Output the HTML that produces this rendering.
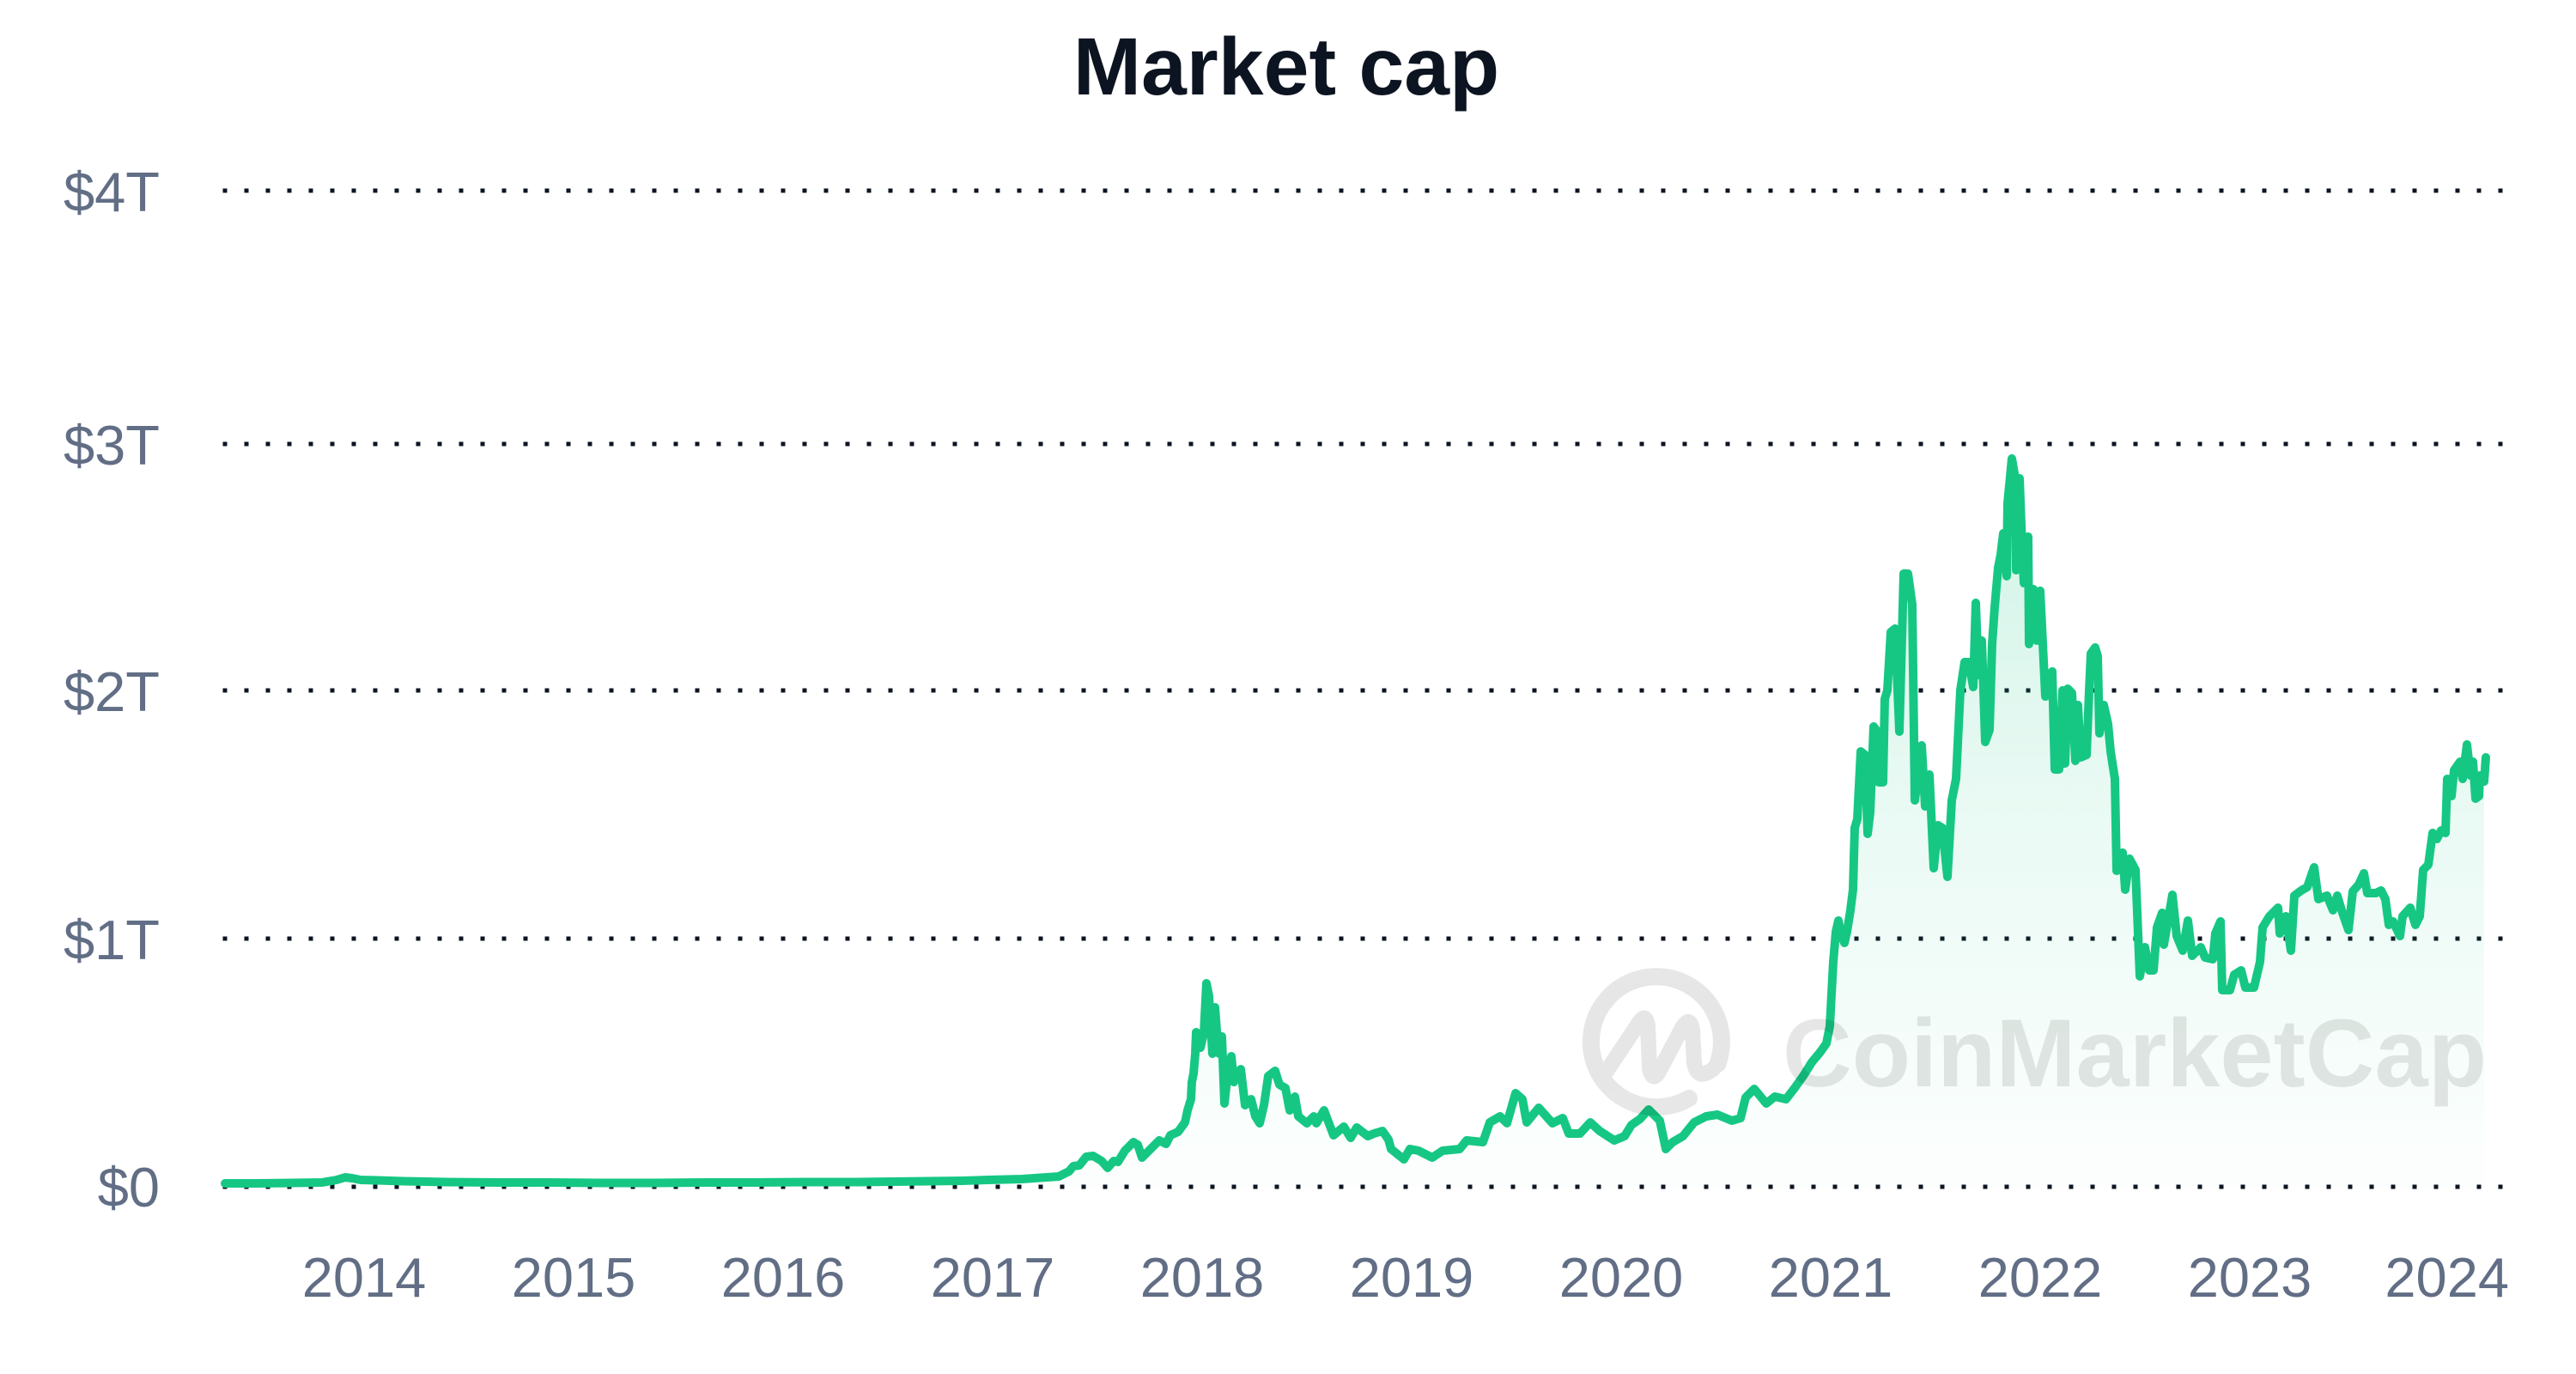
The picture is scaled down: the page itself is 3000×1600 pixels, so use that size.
<!DOCTYPE html>
<html>
<head>
<meta charset="utf-8">
<style>
  html, body { margin: 0; padding: 0; background: #ffffff; }
  body { width: 3000px; height: 1600px; overflow: hidden; }
  svg { display: block; }
  .ylab { font-family: "Liberation Sans", Arial, sans-serif; font-size: 65px; fill: #616e85; }
  .xlab { font-family: "Liberation Sans", Arial, sans-serif; font-size: 65px; fill: #616e85; }
  .title { font-family: "Liberation Sans", Arial, sans-serif; font-size: 95px; font-weight: bold; fill: #0d1421; }
  .wm { font-family: "Liberation Sans", Arial, sans-serif; font-size: 112px; font-weight: bold; }
</style>
</head>
<body>
<svg width="3000" height="1600" viewBox="0 0 3000 1600" xmlns="http://www.w3.org/2000/svg">
  <defs>
    <linearGradient id="fillg" x1="0" y1="534" x2="0" y2="1382" gradientUnits="userSpaceOnUse">
      <stop offset="0" stop-color="#16c784" stop-opacity="0.2"/>
      <stop offset="0.5" stop-color="#16c784" stop-opacity="0.09"/>
      <stop offset="1" stop-color="#16c784" stop-opacity="0.01"/>
    </linearGradient>
  </defs>
  <rect x="0" y="0" width="3000" height="1600" fill="#ffffff"/>

  <!-- Title -->
  <text class="title" x="1498" y="110" text-anchor="middle">Market cap</text>

  <!-- Gridlines (dotted) -->
  <g stroke="#0d1421" stroke-width="5" stroke-dasharray="5 20">
    <line x1="259.5" y1="222" x2="2916" y2="222"/>
    <line x1="259.5" y1="517" x2="2916" y2="517"/>
    <line x1="259.5" y1="804" x2="2916" y2="804"/>
    <line x1="259.5" y1="1093" x2="2916" y2="1093"/>
    <line x1="259.5" y1="1382" x2="2916" y2="1382"/>
  </g>

  <!-- Y labels -->
  <text class="ylab" x="186" y="246" text-anchor="end">$4T</text>
  <text class="ylab" x="186" y="541" text-anchor="end">$3T</text>
  <text class="ylab" x="186" y="828" text-anchor="end">$2T</text>
  <text class="ylab" x="186" y="1117" text-anchor="end">$1T</text>
  <text class="ylab" x="186" y="1405" text-anchor="end">$0</text>

  <!-- X labels -->
  <text class="xlab" x="424" y="1510" text-anchor="middle">2014</text>
  <text class="xlab" x="668" y="1510" text-anchor="middle">2015</text>
  <text class="xlab" x="912" y="1510" text-anchor="middle">2016</text>
  <text class="xlab" x="1156" y="1510" text-anchor="middle">2017</text>
  <text class="xlab" x="1400" y="1510" text-anchor="middle">2018</text>
  <text class="xlab" x="1644" y="1510" text-anchor="middle">2019</text>
  <text class="xlab" x="1888" y="1510" text-anchor="middle">2020</text>
  <text class="xlab" x="2132" y="1510" text-anchor="middle">2021</text>
  <text class="xlab" x="2376" y="1510" text-anchor="middle">2022</text>
  <text class="xlab" x="2620" y="1510" text-anchor="middle">2023</text>
  <text class="xlab" x="2922" y="1510" text-anchor="end">2024</text>

  <!-- Area fill -->
  <path fill="url(#fillg)" stroke="none" d="M262,1378 L300,1378 L340,1377.5 L375,1377 L392,1374 L402,1371 L410,1372 L420,1374 L440,1374.5 L470,1375.5 L520,1376.5 L580,1377 L640,1377 L700,1377.5 L760,1377.5 L820,1377 L880,1377 L940,1376.5 L1000,1376.5 L1040,1376 L1080,1375.5 L1120,1375 L1150,1374 L1190,1373 L1233,1370 L1245,1364 L1250,1358 L1257,1357 L1265,1347 L1273,1346 L1283,1352 L1290,1360 L1297,1352 L1302,1353 L1310,1340 L1320,1330 L1325,1333 L1330,1348 L1338,1340 L1350,1328 L1358,1332 L1363,1322 L1372,1318 L1380,1307 L1383,1293 L1387,1280 L1388,1260 L1390,1250 L1392,1227 L1393,1202 L1398,1220 L1402,1203 L1405,1145 L1408,1160 L1412,1227 L1415,1173 L1417,1200 L1420,1227 L1423,1207 L1426,1285 L1430,1247 L1434,1230 L1437,1260 L1440,1250 L1445,1245 L1450,1287 L1457,1280 L1462,1300 L1467,1308 L1472,1287 L1477,1253 L1485,1247 L1490,1263 L1497,1267 L1502,1293 L1508,1277 L1512,1300 L1522,1308 L1530,1300 L1533,1308 L1542,1293 L1553,1322 L1565,1312 L1573,1325 L1580,1313 L1593,1323 L1600,1320 L1610,1317 L1617,1327 L1620,1338 L1635,1350 L1642,1338 L1652,1340 L1668,1348 L1680,1340 L1700,1338 L1708,1328 L1727,1330 L1735,1307 L1747,1300 L1755,1308 L1765,1273 L1773,1280 L1778,1307 L1792,1290 L1808,1308 L1820,1302 L1827,1320 L1840,1320 L1852,1307 L1863,1317 L1880,1328 L1892,1323 L1900,1310 L1910,1303 L1920,1292 L1933,1305 L1940,1338 L1948,1330 L1960,1323 L1973,1307 L1987,1300 L2000,1298 L2017,1305 L2027,1302 L2033,1278 L2043,1268 L2057,1285 L2067,1277 L2080,1280 L2090,1267 L2100,1253 L2110,1237 L2120,1225 L2127,1215 L2131,1195 L2135,1120 L2138,1085 L2141,1072 L2144,1088 L2148,1098 L2151,1085 L2155,1060 L2158,1036 L2160,964 L2163,954 L2167,875 L2172,879 L2175,971 L2178,946 L2182,846 L2185,850 L2188,911 L2193,911 L2195,814 L2198,804 L2202,736 L2207,732 L2212,852 L2217,668 L2222,668 L2227,704 L2230,932 L2238,868 L2242,939 L2247,902 L2252,1011 L2257,961 L2262,964 L2268,1021 L2273,932 L2278,907 L2283,804 L2288,771 L2293,771 L2298,800 L2301,702 L2304,786 L2308,746 L2312,864 L2317,850 L2320,750 L2323,707 L2327,661 L2330,646 L2333,621 L2337,671 L2338,586 L2343,534 L2347,557 L2348,664 L2352,557 L2354,611 L2357,679 L2362,625 L2363,750 L2368,686 L2372,746 L2376,688 L2378,729 L2382,811 L2390,782 L2393,896 L2398,896 L2402,804 L2405,889 L2408,802 L2413,807 L2417,886 L2420,821 L2423,882 L2430,879 L2433,804 L2435,761 L2440,754 L2443,764 L2445,854 L2450,821 L2455,843 L2458,875 L2463,907 L2465,1014 L2472,993 L2475,1036 L2480,1000 L2487,1013 L2492,1137 L2498,1103 L2503,1130 L2508,1130 L2512,1080 L2518,1063 L2520,1100 L2530,1042 L2535,1090 L2542,1107 L2548,1072 L2553,1113 L2563,1103 L2568,1115 L2577,1117 L2580,1087 L2586,1073 L2588,1153 L2597,1153 L2602,1135 L2610,1130 L2615,1150 L2625,1150 L2632,1120 L2635,1080 L2643,1067 L2653,1057 L2655,1087 L2662,1067 L2668,1107 L2672,1043 L2680,1037 L2687,1033 L2695,1010 L2700,1047 L2710,1043 L2717,1060 L2722,1043 L2728,1063 L2735,1083 L2740,1038 L2747,1030 L2753,1017 L2757,1040 L2767,1040 L2773,1037 L2778,1047 L2782,1077 L2787,1073 L2795,1090 L2798,1067 L2807,1057 L2813,1077 L2818,1067 L2822,1013 L2828,1007 L2833,970 L2838,977 L2843,967 L2848,970 L2850,907 L2855,927 L2858,897 L2865,887 L2868,907 L2873,867 L2877,903 L2880,887 L2883,930 L2887,927 L2888,903 L2893,910 L2893,1382 L262,1382 Z"/>

  <!-- Line -->
  <path fill="none" stroke="#16c784" stroke-width="10" stroke-linejoin="round" stroke-linecap="round" d="M262,1378 L300,1378 L340,1377.5 L375,1377 L392,1374 L402,1371 L410,1372 L420,1374 L440,1374.5 L470,1375.5 L520,1376.5 L580,1377 L640,1377 L700,1377.5 L760,1377.5 L820,1377 L880,1377 L940,1376.5 L1000,1376.5 L1040,1376 L1080,1375.5 L1120,1375 L1150,1374 L1190,1373 L1233,1370 L1245,1364 L1250,1358 L1257,1357 L1265,1347 L1273,1346 L1283,1352 L1290,1360 L1297,1352 L1302,1353 L1310,1340 L1320,1330 L1325,1333 L1330,1348 L1338,1340 L1350,1328 L1358,1332 L1363,1322 L1372,1318 L1380,1307 L1383,1293 L1387,1280 L1388,1260 L1390,1250 L1392,1227 L1393,1202 L1398,1220 L1402,1203 L1405,1145 L1408,1160 L1412,1227 L1415,1173 L1417,1200 L1420,1227 L1423,1207 L1426,1285 L1430,1247 L1434,1230 L1437,1260 L1440,1250 L1445,1245 L1450,1287 L1457,1280 L1462,1300 L1467,1308 L1472,1287 L1477,1253 L1485,1247 L1490,1263 L1497,1267 L1502,1293 L1508,1277 L1512,1300 L1522,1308 L1530,1300 L1533,1308 L1542,1293 L1553,1322 L1565,1312 L1573,1325 L1580,1313 L1593,1323 L1600,1320 L1610,1317 L1617,1327 L1620,1338 L1635,1350 L1642,1338 L1652,1340 L1668,1348 L1680,1340 L1700,1338 L1708,1328 L1727,1330 L1735,1307 L1747,1300 L1755,1308 L1765,1273 L1773,1280 L1778,1307 L1792,1290 L1808,1308 L1820,1302 L1827,1320 L1840,1320 L1852,1307 L1863,1317 L1880,1328 L1892,1323 L1900,1310 L1910,1303 L1920,1292 L1933,1305 L1940,1338 L1948,1330 L1960,1323 L1973,1307 L1987,1300 L2000,1298 L2017,1305 L2027,1302 L2033,1278 L2043,1268 L2057,1285 L2067,1277 L2080,1280 L2090,1267 L2100,1253 L2110,1237 L2120,1225 L2127,1215 L2131,1195 L2135,1120 L2138,1085 L2141,1072 L2144,1088 L2148,1098 L2151,1085 L2155,1060 L2158,1036 L2160,964 L2163,954 L2167,875 L2172,879 L2175,971 L2178,946 L2182,846 L2185,850 L2188,911 L2193,911 L2195,814 L2198,804 L2202,736 L2207,732 L2212,852 L2217,668 L2222,668 L2227,704 L2230,932 L2238,868 L2242,939 L2247,902 L2252,1011 L2257,961 L2262,964 L2268,1021 L2273,932 L2278,907 L2283,804 L2288,771 L2293,771 L2298,800 L2301,702 L2304,786 L2308,746 L2312,864 L2317,850 L2320,750 L2323,707 L2327,661 L2330,646 L2333,621 L2337,671 L2338,586 L2343,534 L2347,557 L2348,664 L2352,557 L2354,611 L2357,679 L2362,625 L2363,750 L2368,686 L2372,746 L2376,688 L2378,729 L2382,811 L2390,782 L2393,896 L2398,896 L2402,804 L2405,889 L2408,802 L2413,807 L2417,886 L2420,821 L2423,882 L2430,879 L2433,804 L2435,761 L2440,754 L2443,764 L2445,854 L2450,821 L2455,843 L2458,875 L2463,907 L2465,1014 L2472,993 L2475,1036 L2480,1000 L2487,1013 L2492,1137 L2498,1103 L2503,1130 L2508,1130 L2512,1080 L2518,1063 L2520,1100 L2530,1042 L2535,1090 L2542,1107 L2548,1072 L2553,1113 L2563,1103 L2568,1115 L2577,1117 L2580,1087 L2586,1073 L2588,1153 L2597,1153 L2602,1135 L2610,1130 L2615,1150 L2625,1150 L2632,1120 L2635,1080 L2643,1067 L2653,1057 L2655,1087 L2662,1067 L2668,1107 L2672,1043 L2680,1037 L2687,1033 L2695,1010 L2700,1047 L2710,1043 L2717,1060 L2722,1043 L2728,1063 L2735,1083 L2740,1038 L2747,1030 L2753,1017 L2757,1040 L2767,1040 L2773,1037 L2778,1047 L2782,1077 L2787,1073 L2795,1090 L2798,1067 L2807,1057 L2813,1077 L2818,1067 L2822,1013 L2828,1007 L2833,970 L2838,977 L2843,967 L2848,970 L2850,907 L2855,927 L2858,897 L2865,887 L2868,907 L2873,867 L2877,903 L2880,887 L2883,930 L2887,927 L2888,903 L2893,910 L2895,882"/>

  <!-- Watermark (overlay) -->
  <g opacity="0.095">
    <path d="M1967,1279 A76,76 0 1 1 2000.4,1239" fill="none" stroke="#000000" stroke-width="20" stroke-linecap="round"/>
    <path d="M1868,1252 L1908,1192 Q1916,1178 1919,1194 L1921,1244 Q1925,1262 1933,1246 L1959,1197 Q1968,1182 1971,1199 L1973,1238 Q1977,1260 1996,1244" fill="none" stroke="#000000" stroke-width="18" stroke-linecap="round" stroke-linejoin="round"/>
    <text class="wm" x="2076" y="1265" textLength="820" lengthAdjust="spacingAndGlyphs" fill="#000000">CoinMarketCap</text>
  </g>
</svg>
</body>
</html>
